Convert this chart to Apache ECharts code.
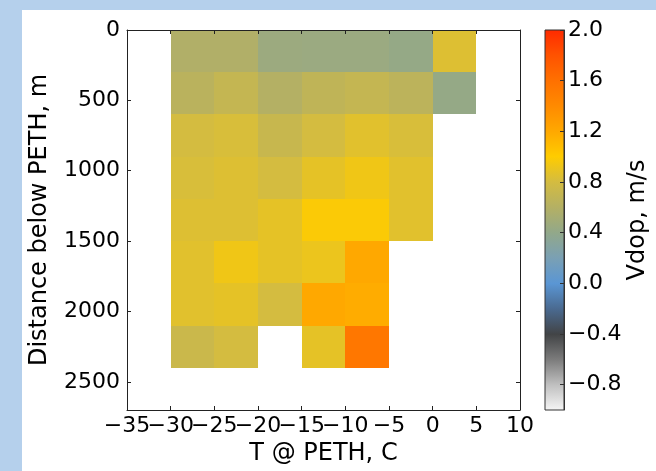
<!DOCTYPE html>
<html>
<head>
<meta charset="utf-8">
<script src="https://cdn.jsdelivr.net/npm/echarts@6/dist/echarts.min.js"></script>
<style>
  html, body { margin: 0; padding: 0; background: #b5d0ec; }
  #panel { position: absolute; left: 22px; top: 10px; width: 634px; height: 461px; background: #ffffff; }
  #chart { position: absolute; left: 0; top: 0; width: 656px; height: 471px; }
</style>
</head>
<body>
<div id="panel"></div>
<div id="chart"></div>
<script>
// Temperature bins (left edge, C) and depth bins (top edge, m)
const tempBins = [-30, -25, -20, -15, -10, -5, 0];
const depthBins = [0, 300, 600, 900, 1200, 1500, 1800, 2100];
const tempStep = 5;
const depthStep = 300;

// Mean Doppler velocity per depth row (m/s), one entry per temperature bin; null = no data
const vdopRow0 = [0.58, 0.58, 0.46, 0.45, 0.45, 0.42, 0.84];
const vdopRow1 = [0.64, 0.70, 0.60, 0.67, 0.70, 0.65, 0.42];
const vdopRow2 = [0.80, 0.82, 0.72, 0.80, 0.86, 0.82, null];
const vdopRow3 = [0.82, 0.84, 0.80, 0.88, 0.93, 0.86, null];
const vdopRow4 = [0.84, 0.84, 0.88, 0.98, 0.98, 0.86, null];
const vdopRow5 = [0.86, 0.93, 0.88, 0.91, 1.20, null, null];
const vdopRow6 = [0.86, 0.88, 0.80, 1.20, 1.18, null, null];
const vdopRow7 = [0.74, 0.80, null, 0.88, 1.55, null, null];
const vdopRows = [vdopRow0, vdopRow1, vdopRow2, vdopRow3, vdopRow4, vdopRow5, vdopRow6, vdopRow7];

// Axis ticks
const xTicks = [-35, -30, -25, -20, -15, -10, -5, 0, 5, 10];
const yTicks = [0, 500, 1000, 1500, 2000, 2500];
const cbTicks = [-0.8, -0.4, 0.0, 0.4, 0.8, 1.2, 1.6, 2.0];

// Colour scale: evenly spaced stops from cbMin to cbMax
const cbMin = -1.0;
const cbMax = 2.0;
const cmapColors = [
  '#f6f6f6', '#c0c0c0', '#7c7c7c', '#424446', '#4a6a90', '#5a96d4',
  '#7aa0b4', '#92a88a', '#b4b064', '#d4bc40', '#ffcc00', '#ffa800',
  '#ff8a00', '#ff7000', '#ff5200', '#ff2a00'
];

const cells = [];
vdopRows.forEach((row, i) => {
  row.forEach((v, j) => {
    if (v !== null) cells.push([tempBins[j], depthBins[i], v]);
  });
});

// The x tick labels are wide enough to touch; they are split over two
// coincident axes so that neither axis drops a label for overlapping.
const xTicksA = xTicks.filter((_, i) => i % 2 === 0);
const xTicksB = xTicks.filter((_, i) => i % 2 === 1);

const minus = s => String(s).replace('-', '\u2212');
const font = 'DejaVu Sans';
const fs = 22;
const titleFs = 24;

const frameAxis = {
  z: 10,
  axisLine: { show: true, onZero: false, lineStyle: { color: '#222', width: 1 } },
  axisTick: { show: true, inside: true, length: 4, lineStyle: { color: '#222', width: 1 } },
  splitLine: { show: false }
};
const xLabel = vals => ({
  show: true, showMinLabel: true, showMaxLabel: true, hideOverlap: false,
  customValues: vals, margin: 5, color: '#000', fontSize: fs, fontFamily: font, formatter: v => minus(v)
});

const chart = echarts.init(document.getElementById('chart'), null, { renderer: 'canvas' });
chart.setOption({
  backgroundColor: 'transparent',
  animation: false,
  textStyle: { fontFamily: font },
  grid: [
    { left: 127, top: 30, width: 393, height: 380 },
    { left: 545, top: 30, width: 19, height: 380 }
  ],
  xAxis: [
    Object.assign({}, frameAxis, {
      type: 'value', gridIndex: 0, position: 'bottom', min: xTicks[0], max: xTicks[xTicks.length - 1], interval: 5,
      axisLabel: xLabel(xTicksA),
      name: 'T @ PETH, C', nameLocation: 'middle', nameGap: 32,
      nameTextStyle: { color: '#000', fontSize: titleFs, fontFamily: font }
    }),
    Object.assign({}, frameAxis, {
      type: 'value', gridIndex: 0, position: 'top', min: xTicks[0], max: xTicks[xTicks.length - 1], interval: 5,
      axisLabel: { show: false }
    }),
    { type: 'value', gridIndex: 1, min: 0, max: 1, show: false },
    {
      type: 'value', gridIndex: 0, position: 'bottom', offset: 0, z: 10,
      min: xTicks[0], max: xTicks[xTicks.length - 1], interval: 5,
      axisLine: { show: false, onZero: false }, axisTick: { show: false }, splitLine: { show: false },
      axisLabel: xLabel(xTicksB)
    }
  ],
  yAxis: [
    Object.assign({}, frameAxis, {
      type: 'value', gridIndex: 0, position: 'left', inverse: true, min: 0, max: 2700, interval: 500,
      axisLabel: { show: true, showMinLabel: true, hideOverlap: false, customValues: yTicks,
        margin: 7, color: '#000', fontSize: fs, fontFamily: font, formatter: v => String(v) },
      name: 'Distance below PETH, m', nameLocation: 'middle', nameGap: 75,
      nameTextStyle: { color: '#000', fontSize: titleFs, fontFamily: font }
    }),
    Object.assign({}, frameAxis, {
      type: 'value', gridIndex: 0, position: 'right', inverse: true, min: 0, max: 2700, interval: 500,
      axisLabel: { show: false }
    }),
    {
      type: 'value', gridIndex: 1, position: 'right', min: cbMin, max: cbMax, z: 10,
      axisLine: { show: true, onZero: false, lineStyle: { color: '#333', width: 1 } },
      axisTick: { show: true, inside: true, length: 4, customValues: cbTicks, lineStyle: { color: '#333' } },
      axisLabel: { show: true, customValues: cbTicks, hideOverlap: false, margin: 4, color: '#000', fontSize: fs, fontFamily: font,
        formatter: v => minus(Number(v).toFixed(1)) },
      splitLine: { show: false },
      name: 'Vdop, m/s', nameLocation: 'middle', nameRotate: 90, nameGap: 60,
      nameTextStyle: { color: '#000', fontSize: titleFs, fontFamily: font }
    }
  ],
  visualMap: {
    type: 'continuous', show: false, seriesIndex: 0, dimension: 2,
    min: cbMin, max: cbMax, inRange: { color: cmapColors }
  },
  series: [
    {
      type: 'custom', xAxisIndex: 0, yAxisIndex: 0,
      data: cells,
      renderItem: (params, api) => {
        const a = api.coord([api.value(0), api.value(1)]);
        const b = api.coord([api.value(0) + tempStep, api.value(1) + depthStep]);
        const x0 = Math.round(Math.min(a[0], b[0]));
        const x1 = Math.round(Math.max(a[0], b[0]));
        const y0 = Math.round(Math.min(a[1], b[1]));
        const y1 = Math.round(Math.max(a[1], b[1]));
        return {
          type: 'rect',
          shape: { x: x0, y: y0, width: x1 - x0, height: y1 - y0 },
          style: { fill: api.visual('color'), stroke: null }
        };
      }
    },
    {
      type: 'custom', xAxisIndex: 2, yAxisIndex: 2,
      data: [[0, cbMin, 1, cbMax]],
      renderItem: (params, api) => {
        const a = api.coord([api.value(0), api.value(3)]);
        const b = api.coord([api.value(2), api.value(1)]);
        const stops = cmapColors.map((c, i) => ({ offset: 1 - i / (cmapColors.length - 1), color: c })).reverse();
        return {
          type: 'rect',
          shape: { x: a[0], y: a[1], width: b[0] - a[0], height: b[1] - a[1] },
          style: {
            fill: new echarts.graphic.LinearGradient(0, 0, 0, 1, stops),
            stroke: '#333', lineWidth: 1
          }
        };
      }
    }
  ]
});
</script>
</body>
</html>
